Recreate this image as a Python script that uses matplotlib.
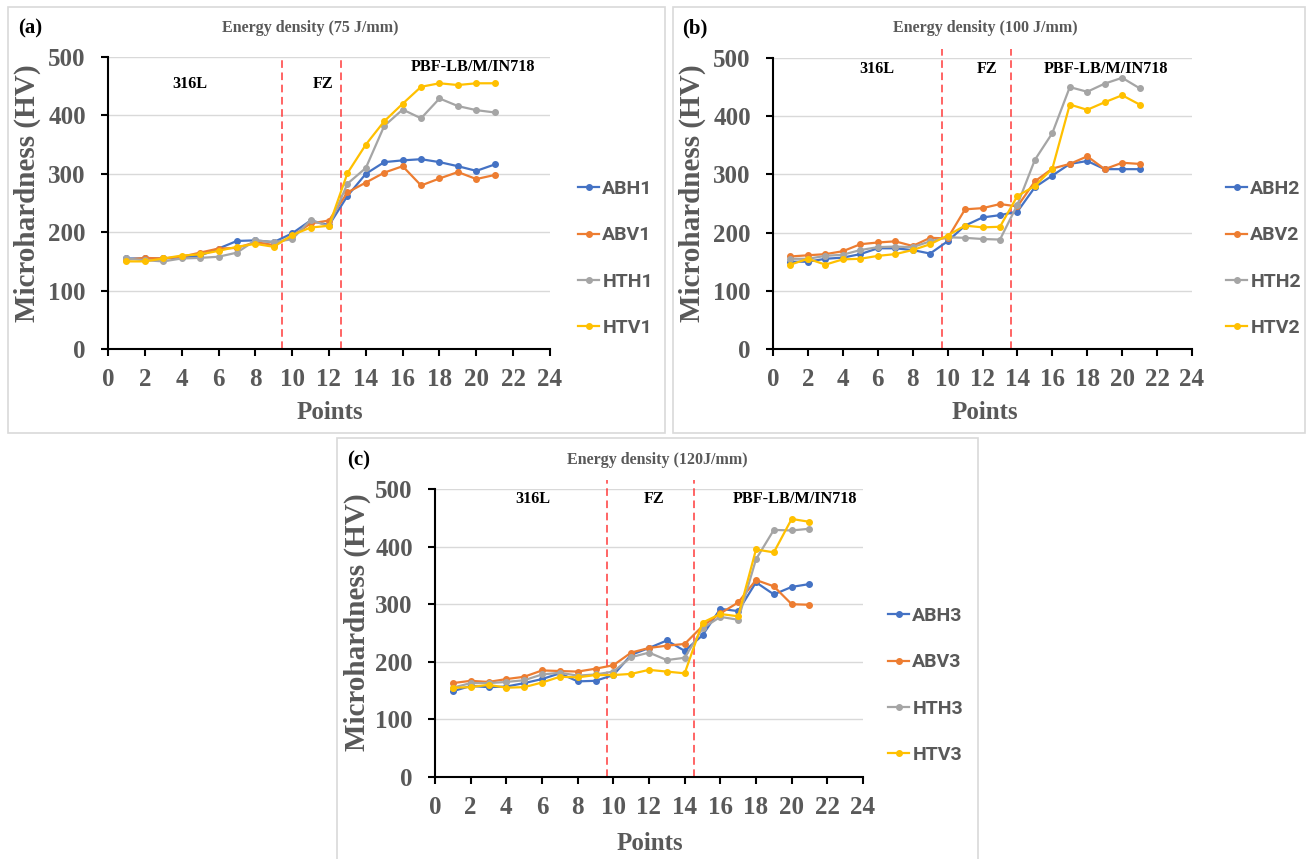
import matplotlib
matplotlib.use("Agg")
import matplotlib.pyplot as plt
from matplotlib.patches import Rectangle

points = list(range(1, 22))

# Panel (a) 75 J/mm
abh1 = [155, 155, 155, 157, 160, 172, 185, 186, 183, 198, 220, 212, 262, 300, 320, 323, 325, 320, 313, 305, 316]
abv1 = [153, 156, 155, 158, 165, 172, 173, 183, 178, 193, 215, 220, 268, 285, 302, 313, 280, 292, 303, 291, 298]
hth1 = [155, 152, 150, 155, 156, 158, 165, 186, 183, 188, 221, 210, 283, 310, 382, 410, 395, 429, 416, 409, 405]
htv1 = [150, 150, 155, 160, 162, 168, 175, 180, 175, 195, 208, 211, 301, 350, 390, 420, 449, 455, 452, 455, 455]

# Panel (b) 100 J/mm
abh2 = [150, 150, 155, 157, 163, 173, 173, 170, 164, 185, 212, 226, 230, 236, 278, 298, 318, 323, 309, 309, 309]
abv2 = [159, 161, 163, 168, 180, 183, 185, 177, 191, 190, 240, 242, 249, 245, 288, 310, 318, 331, 309, 320, 318]
hth2 = [155, 155, 160, 162, 170, 175, 176, 175, 185, 192, 191, 189, 188, 248, 325, 371, 450, 442, 456, 466, 448]
htv2 = [145, 155, 145, 154, 155, 160, 163, 170, 180, 195, 212, 209, 210, 263, 280, 310, 420, 411, 424, 436, 420]

# Panel (c) 120 J/mm
abh3 = [149, 158, 156, 157, 163, 170, 180, 166, 167, 177, 212, 224, 237, 219, 246, 292, 288, 338, 317, 330, 335]
abv3 = [163, 167, 165, 170, 174, 185, 184, 183, 188, 194, 216, 224, 228, 231, 262, 284, 303, 342, 331, 300, 299]
hth3 = [155, 163, 163, 165, 168, 178, 181, 176, 178, 183, 208, 216, 203, 207, 258, 278, 273, 378, 429, 428, 431]
htv3 = [155, 156, 160, 155, 156, 164, 174, 173, 177, 177, 179, 186, 183, 180, 268, 283, 279, 395, 390, 448, 443]

titles = ["Energy density (75 J/mm)", "Energy density (100 J/mm)", "Energy density (120J/mm)"]
panel_tags = ["(a)", "(b)", "(c)"]
series_names = [["ABH1", "ABV1", "HTH1", "HTV1"],
                ["ABH2", "ABV2", "HTH2", "HTV2"],
                ["ABH3", "ABV3", "HTH3", "HTV3"]]
series_vals = [[abh1, abv1, hth1, htv1], [abh2, abv2, hth2, htv2], [abh3, abv3, hth3, htv3]]
boundaries = [[9.45, 12.65], [9.68, 13.64], [9.64, 14.53]]
region_labels = ["316L", "FZ", "PBF-LB/M/IN718"]
region_x = [[4.45, 11.7, 19.8], [5.96, 12.26, 19.1], [5.5, 12.3, 20.2]]
region_y = [[454, 454, 483], [481, 481, 481], [483, 483, 483]]
x_ticks = list(range(0, 25, 2))
y_ticks = list(range(0, 501, 100))

colors = ["#4472C4", "#ED7D31", "#A5A5A5", "#FFC000"]
TXT = "#595959"
SERIF = "Liberation Serif"

W, H = 1309, 859
fig = plt.figure(figsize=(W / 100, H / 100), dpi=100)

layouts = [
    dict(ax=(108, 550, 57, 349), frame=(8, 665, 7, 433), tag=(18, 28), title=(310, 28),
         ylab=(27, 193), xlab=(330, 412), leg=(578, 258.5), vtop=500),
    dict(ax=(773, 1192, 58, 349), frame=(673, 1305, 7, 433), tag=(682, 28), title=(985, 28),
         ylab=(692, 193), xlab=(985, 412), leg=(1226, 258.5), vtop=515),
    dict(ax=(435, 863, 489, 777), frame=(337, 978, 438, 866), tag=(347, 460), title=(657, 460),
         ylab=(357, 622), xlab=(650, 843), leg=(888, 685.5), vtop=515),
]

for i, L in enumerate(layouts):
    fl, fr, ft, fb = L["frame"]
    fig.patches.append(Rectangle((fl / W, 1 - fb / H), (fr - fl) / W, (fb - ft) / H,
                                 transform=fig.transFigure, fill=False,
                                 edgecolor="#D9D9D9", lw=1.2, zorder=0))
    l, r, t, b = L["ax"]
    ax = fig.add_axes([l / W, 1 - b / H, (r - l) / W, (b - t) / H])
    for name, vals, c in zip(series_names[i], series_vals[i], colors):
        ax.plot(points, vals, color=c, lw=1.6, marker="o", markersize=4, label=name, zorder=3)
    for xb in boundaries[i]:
        ax.plot([xb, xb], [0, L["vtop"]], color="#FF3B3B", lw=1.1, ls=(0, (5, 3)),
                clip_on=False, zorder=2)
    for lab, rx, ry in zip(region_labels, region_x[i], region_y[i]):
        ax.text(rx, ry, lab, ha="center", va="center", fontsize=11.7,
                fontweight="bold", family=SERIF, color="black")
    ax.set_xlim(0, 24)
    ax.set_ylim(0, 500)
    ax.set_xticks(x_ticks)
    ax.set_yticks(y_ticks)
    ax.yaxis.grid(True, color="#D9D9D9", lw=1)
    ax.set_axisbelow(True)
    for s in ["top", "right"]:
        ax.spines[s].set_visible(False)
    for s in ["left", "bottom"]:
        ax.spines[s].set_color("black")
        ax.spines[s].set_linewidth(1.5)
    ax.tick_params(axis="both", direction="out", length=5, width=1.5, color="black",
                   labelsize=18, labelcolor=TXT)
    ax.tick_params(axis="x", pad=9)
    ax.tick_params(axis="y", pad=11)
    for lbl in ax.get_xticklabels() + ax.get_yticklabels():
        lbl.set_fontweight("bold")
        lbl.set_family(SERIF)

    lx, ly = L["leg"]
    leg = ax.legend(loc="center left",
                    bbox_to_anchor=((lx - l) / (r - l), (b - ly) / (b - t)),
                    frameon=False, borderaxespad=0, borderpad=0,
                    handlelength=1.1, handletextpad=0.15, labelspacing=1.45,
                    prop=dict(family="Roboto", weight="bold", size=14))
    for txt in leg.get_texts():
        txt.set_color(TXT)

    tx, ty = L["tag"]
    fig.text(tx / W, 1 - ty / H, panel_tags[i], ha="left", va="center", fontsize=15,
             fontweight="bold", family=SERIF, color="black")
    cx, cy = L["title"]
    fig.text(cx / W, 1 - cy / H, titles[i], ha="center", va="center", fontsize=11.5,
             fontweight="bold", family=SERIF, color=TXT)
    yx, yy = L["ylab"]
    fig.text(yx / W, 1 - yy / H, "Microhardness (HV)", ha="center", va="center",
             rotation=90, fontsize=21, fontweight="bold", family=SERIF, color=TXT)
    xx, xy = L["xlab"]
    fig.text(xx / W, 1 - xy / H, "Points", ha="center", va="center", fontsize=18,
             fontweight="bold", family=SERIF, color=TXT)

fig.savefig("out.png", dpi=100, facecolor="white")
